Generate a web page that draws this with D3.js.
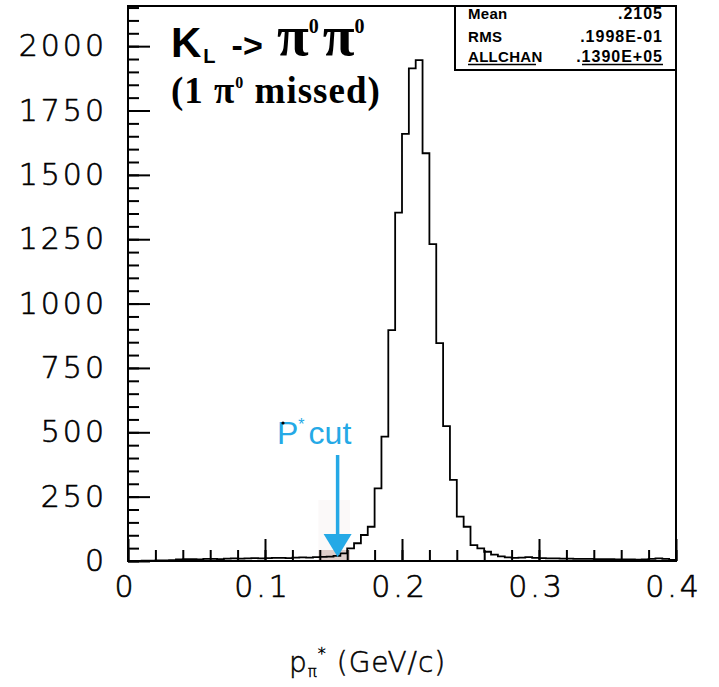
<!DOCTYPE html>
<html><head><meta charset="utf-8">
<script src="https://cdn.jsdelivr.net/npm/d3@7"></script>
<style>body{margin:0;background:#fff}svg{display:block}</style>
</head><body>
<svg id="c" width="719" height="687"></svg>
<script>
// ---- data ----
const binWidth = 0.005;
const binStarts = d3.range(80).map(i => +(i * 0.005).toFixed(3));
const counts = [
  0, 0, 1, 1, 2, 2, 3, 6, 7, 7,          // 0.000 - 0.045
  6, 8, 8, 7, 9, 10, 9, 10, 11, 10,      // 0.050 - 0.095
  11, 12, 12, 11, 13, 14, 13, 15, 16, 17,// 0.100 - 0.145
  20, 30, 49, 69, 101, 133, 282, 483, 897, 1353, // 0.150 - 0.195
  1659, 1914, 1946, 1584, 1231, 846, 524, 315, 172, 133, // 0.200 - 0.245
  62, 49, 36, 25, 18, 14, 12, 13, 15, 12, // 0.250 - 0.295
  11, 10, 10, 9, 9, 8, 8, 8, 7, 7,       // 0.300 - 0.345
  7, 6, 6, 6, 5, 6, 8, 10, 8, 4          // 0.350 - 0.395
];
const xMajorTicks = [0, 0.1, 0.2, 0.3, 0.4];
const xMinorTicks = d3.range(0, 21).map(i => +(i * 0.02).toFixed(2));
const yMajorTicks = [0, 250, 500, 750, 1000, 1250, 1500, 1750, 2000];
const yMinorTicks = d3.range(0, 44).map(i => i * 50);
const statLabels = ["Mean", "RMS", "ALLCHAN"];
const statValues = [".2105", ".1998E-01", ".1390E+05"];
const cutValue = 0.153;

// ---- layout ----
const svg = d3.select("#c");
const L = 128, R = 676, T = 6, B = 561;
const x = d3.scaleLinear().domain([0, 0.4]).range([L, R]);
const y = d3.scaleLinear().domain([0, 2156]).range([B, T]);
const tickFont = "'DejaVu Sans', sans-serif";
const sans = "'Liberation Sans', Arial, sans-serif";
const serif = "'Liberation Serif', 'Times New Roman', serif";

// faint overlay artifact near cut
svg.append("rect").attr("x", x(0.139)).attr("y", 500).attr("width", x(0.162) - x(0.139)).attr("height", B - 500)
  .attr("fill", "#fbf9f9");
svg.append("rect").attr("x", x(0.139)).attr("y", 550).attr("width", x(0.162) - x(0.139)).attr("height", B - 550)
  .attr("fill", "#c4a49c").attr("opacity", 0.5);

// histogram
const pts = [[0, 0]];
binStarts.forEach((s, i) => pts.push([s, counts[i]]));
pts.push([0.4, counts[counts.length - 1]]);
pts.push([0.4, 0]);
const line = d3.line().x(d => x(d[0])).y(d => y(d[1])).curve(d3.curveStepAfter);
svg.append("path").attr("d", line(pts)).attr("fill", "none").attr("stroke", "#000")
  .attr("stroke-width", 1.8).attr("stroke-linejoin", "miter");

// frame
svg.append("rect").attr("x", L).attr("y", T).attr("width", R - L).attr("height", B - T)
  .attr("fill", "none").attr("stroke", "#000").attr("stroke-width", 2);

// y axis
const yMinor = svg.append("g").attr("transform", `translate(${L},0)`)
  .call(d3.axisLeft(y).tickValues(yMinorTicks).tickSizeInner(-11).tickSizeOuter(0).tickFormat(""));
const yMajor = svg.append("g").attr("transform", `translate(${L},0)`)
  .call(d3.axisLeft(y).tickValues(yMajorTicks).tickSizeInner(-22).tickSizeOuter(0).tickPadding(21).tickFormat(d => String(d)));
// x axis
const xMinor = svg.append("g").attr("transform", `translate(0,${B})`)
  .call(d3.axisBottom(x).tickValues(xMinorTicks).tickSizeInner(-11).tickSizeOuter(0).tickFormat(""));
const xMajor = svg.append("g").attr("transform", `translate(0,${B})`)
  .call(d3.axisBottom(x).tickValues(xMajorTicks).tickSizeInner(-22).tickSizeOuter(0).tickPadding(15)
    .tickFormat(d => d === 0 ? "0" : String(d)));
[yMinor, yMajor, xMinor, xMajor].forEach(g => {
  g.select(".domain").remove();
  g.selectAll(".tick line").attr("stroke", "#000").attr("stroke-width", 2);
  g.selectAll("text").attr("font-family", tickFont).attr("font-weight", 200).attr("font-size", 30).attr("fill", "#000")
    .attr("stroke", "#000").attr("stroke-width", 0.6).attr("letter-spacing", 3);
});
xMajor.selectAll("text").attr("dx", -3);

// x axis title
const xt = svg.append("text").attr("x", 289).attr("y", 672).attr("font-family", tickFont).attr("font-weight", 200)
  .attr("font-size", 28).attr("fill", "#000").attr("stroke", "#000").attr("stroke-width", 0.5).attr("letter-spacing", 1);
xt.append("tspan").text("p");
xt.append("tspan").attr("font-size", 15).attr("dy", 5).text("π");
xt.append("tspan").attr("font-size", 16).attr("dy", -18).text("*");
xt.append("tspan").attr("dy", 13).text(" (GeV/c)");

// stats box
svg.append("rect").attr("x", 455).attr("y", T).attr("width", R - 455).attr("height", 70 - T)
  .attr("fill", "#fff").attr("stroke", "#000").attr("stroke-width", 2);
const statY = [19, 42, 62];
statLabels.forEach((s, i) => {
  svg.append("text").attr("x", 468).attr("y", statY[i]).attr("font-family", sans)
    .attr("font-weight", "bold").attr("font-size", 15).attr("letter-spacing", 0.3).text(s);
  svg.append("text").attr("x", 663).attr("y", statY[i]).attr("text-anchor", "end")
    .attr("font-family", sans).attr("letter-spacing", 1)
    .attr("font-weight", "bold").attr("font-size", 16).text(statValues[i]);
});
svg.append("line").attr("x1", 468).attr("x2", 536).attr("y1", 64.5).attr("y2", 64.5).attr("stroke", "#000").attr("stroke-width", 1.5);
svg.append("line").attr("x1", 582).attr("x2", 663).attr("y1", 64.5).attr("y2", 64.5).attr("stroke", "#000").attr("stroke-width", 1.5);

// title line 1: K_L ->
const t1a = svg.append("text").attr("x", 171).attr("y", 57).attr("font-weight", "bold").attr("fill", "#000")
  .attr("font-family", sans);
t1a.append("tspan").attr("font-size", 42).text("K");
t1a.append("tspan").attr("font-size", 20).attr("dy", 6).attr("dx", 2).text("L");
t1a.append("tspan").attr("font-size", 34).attr("dy", -6).attr("dx", 16).text("->");
// title line 1: pi0 pi0
const t1b = svg.append("text").attr("x", 277).attr("y", 55).attr("font-weight", "bold").attr("fill", "#000")
  .attr("font-family", serif);
t1b.append("tspan").attr("font-size", 58).text("π");
t1b.append("tspan").attr("font-size", 20).attr("dy", -22).text("0");
t1b.append("tspan").attr("font-size", 58).attr("dy", 22).attr("dx", 4).text("π");
t1b.append("tspan").attr("font-size", 20).attr("dy", -22).text("0");

const t2 = svg.append("text").attr("x", 171).attr("y", 103).attr("font-weight", "bold")
  .attr("font-family", serif).attr("fill", "#000").attr("letter-spacing", 1);
t2.append("tspan").attr("font-size", 37).text("(1 π");
t2.append("tspan").attr("font-size", 16).attr("dy", -15).text("0");
t2.append("tspan").attr("font-size", 37).attr("dy", 15).text(" missed)");

// P* cut annotation
const blue = "#25a9e6";
const pc = svg.append("text").attr("x", 277).attr("y", 444).attr("fill", blue)
  .attr("font-family", sans).attr("font-size", 32);
pc.append("tspan").text("P");
pc.append("tspan").attr("font-size", 16).attr("dy", -14).text("*");
pc.append("tspan").attr("dy", 14).attr("dx", 4).text("cut");
svg.append("circle").attr("cx", 283).attr("cy", 423).attr("r", 1.6).attr("fill", "#000");
const ax = x(cutValue);
svg.append("line").attr("x1", ax).attr("x2", ax).attr("y1", 455).attr("y2", 540)
  .attr("stroke", blue).attr("stroke-width", 3.5);
svg.append("path").attr("d", `M${ax - 14},534 L${ax + 14},534 L${ax},557 Z`).attr("fill", blue);
</script>
</body></html>
